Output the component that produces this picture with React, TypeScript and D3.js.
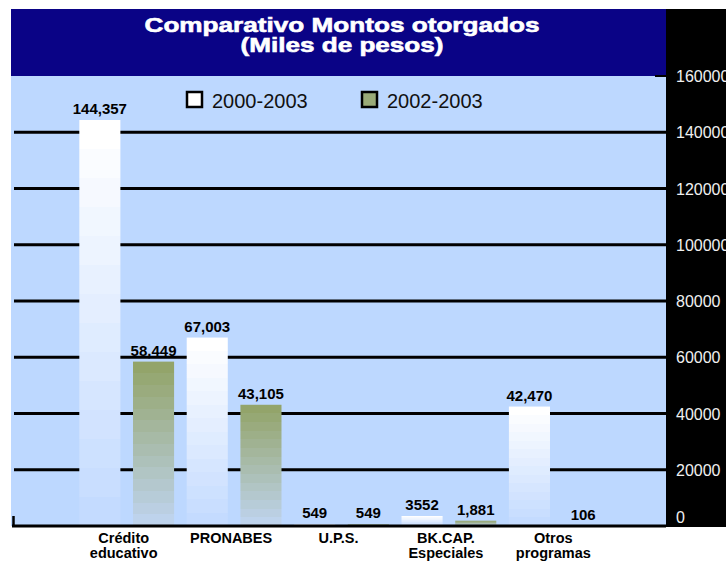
import React from "react";
import * as d3 from "d3";

const categories = ["Crédito educativo", "PRONABES", "U.P.S.", "BK.CAP. Especiales", "Otros programas"];
const categoryLines = [["Crédito", "educativo"], ["PRONABES"], ["U.P.S."], ["BK.CAP.", "Especiales"], ["Otros", "programas"]];
const seriesNames = ["2000-2003", "2002-2003"];
const values2000 = [144357, 67003, 549, 3552, 42470];
const values2002 = [58449, 43105, 549, 1881, 106];
const labels2000 = ["144,357", "67,003", "549", "3552", "42,470"];
const labels2002 = ["58,449", "43,105", "549", "1,881", "106"];
const yTicks = [0, 20000, 40000, 60000, 80000, 100000, 120000, 140000, 160000];
const titleLines = ["Comparativo Montos otorgados", "(Miles de pesos)"];

const W = 726;
const H = 562;
const FONT = "'Liberation Sans', Arial, sans-serif";
const NAVY = "#0a0386";
const BG = "#bdd8ff";
const seriesTop = ["#ffffff", "#93a46a"];
const seriesBottom = ["#c4dbff", "#bed3ec"];
const legendFill = ["#ffffff", "#9aab78"];

function bandStops(top: string, bottom: string, n: number) {
  const interp = d3.interpolateRgb(top, bottom);
  const stops: { offset: number; color: string }[] = [];
  for (let i = 0; i < n; i++) {
    const c = interp(i / (n - 1));
    stops.push({ offset: i / n, color: c });
    stops.push({ offset: (i + 1) / n, color: c });
  }
  return stops;
}

export default function App() {
  const plotLeft = 11;
  const plotRight = 666;
  const plotTop = 76;
  const y = d3.scaleLinear().domain([0, 160000]).range([526, 76]);
  const x0 = d3.scaleBand<string>().domain(categories).range([73, 610]).paddingInner(0).paddingOuter(0);
  const x1 = d3
    .scaleBand<string>()
    .domain(seriesNames)
    .range([0, x0.bandwidth()])
    .paddingInner(0.235)
    .paddingOuter(0.1175);
  const data = [values2000, values2002];
  const labels = [labels2000, labels2002];

  return (
    <div style={{ position: "absolute", left: 0, top: 0 }}>
      <svg width={W} height={H} style={{ display: "block" }} fontFamily={FONT}>
        <defs>
          {seriesNames.map((s, si) => (
            <linearGradient key={s} id={`grad${si}`} x1="0" y1="0" x2="0" y2="1">
              {bandStops(seriesTop[si], seriesBottom[si], 14).map((st, k) => (
                <stop key={k} offset={st.offset} stopColor={st.color} />
              ))}
            </linearGradient>
          ))}
        </defs>
        <rect x={0} y={0} width={W} height={H} fill="#ffffff" />
        <rect x={plotLeft} y={9} width={plotRight - plotLeft} height={plotTop - 9} fill={NAVY} />
        <rect x={plotLeft} y={plotTop} width={plotRight - plotLeft} height={526 - plotTop} fill={BG} />
        <rect x={plotRight} y={9} width={W - plotRight} height={527 - 9} fill="#000000" />

        <text x={342} y={32} textAnchor="middle" fill="#ffffff" fontWeight="bold" fontSize={20}
          stroke="#ffffff" strokeWidth={0.6}
          textLength={395} lengthAdjust="spacingAndGlyphs">{titleLines[0]}</text>
        <text x={342} y={52} textAnchor="middle" fill="#ffffff" fontWeight="bold" fontSize={20}
          stroke="#ffffff" strokeWidth={0.6}
          textLength={203} lengthAdjust="spacingAndGlyphs">{titleLines[1]}</text>

        {yTicks.filter((t) => t > 0 && t < 160000).map((t) => (
          <line key={t} x1={14} x2={plotRight} y1={y(t)} y2={y(t)} stroke="#000" strokeWidth={3} />
        ))}
        <line x1={655} x2={plotRight} y1={y(160000)} y2={y(160000)} stroke="#000" strokeWidth={2} />

        {seriesNames.map((s, si) => {
          const lx = si === 0 ? 187 : 362;
          return (
            <g key={s}>
              <rect x={lx} y={92} width={15} height={15} fill={legendFill[si]} stroke="#000" strokeWidth={2.5} />
              <text x={lx + 25} y={108} fontSize={20} fill="#111">{s}</text>
            </g>
          );
        })}

        {categories.map((c, ci) => (
          <g key={c} transform={`translate(${x0(c)},0)`}>
            {seriesNames.map((s, si) => {
              const v = data[si][ci];
              const top = y(v);
              return (
                <g key={s}>
                  <rect x={x1(s)} y={top} width={x1.bandwidth()} height={y(0) - top} fill={`url(#grad${si})`} />
                  <text x={(x1(s) as number) + x1.bandwidth() / 2} y={top - 6} textAnchor="middle"
                    fontSize={15} fontWeight="bold" fill="#000">{labels[si][ci]}</text>
                </g>
              );
            })}
          </g>
        ))}

        <line x1={12} x2={plotRight} y1={526} y2={526} stroke="#000" strokeWidth={3} />
        <line x1={13.5} x2={13.5} y1={516} y2={527} stroke="#000" strokeWidth={2.5} />

        {yTicks.map((t) => (
          <text key={t} x={676} y={Math.min(y(t) + 6, 523)} fontSize={16} fill="#f0f0f0">{t}</text>
        ))}

        {categories.map((c, ci) =>
          categoryLines[ci].map((ln, li) => (
            <text key={`${c}-${li}`} x={(x0(c) as number) + x0.bandwidth() / 2 - 3} y={543 + li * 15}
              textAnchor="middle" fontSize={14.5} fontWeight="bold" fill="#000">{ln}</text>
          ))
        )}
      </svg>
    </div>
  );
}
